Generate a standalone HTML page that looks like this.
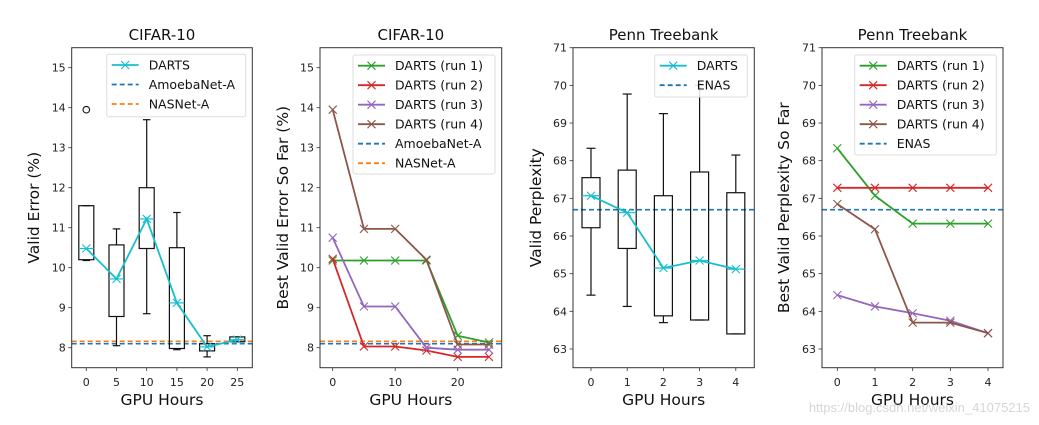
<!DOCTYPE html>
<html><head><meta charset="utf-8"><style>
body{margin:0;background:#fff}
svg{display:block;font-family:"DejaVu Sans","Liberation Sans",sans-serif}
</style></head><body>
<svg id="fig" width="1039" height="425" viewBox="0 0 1039 425" xmlns="http://www.w3.org/2000/svg"></svg>
<script>
// Panel 1: CIFAR-10 box plot
const p1X = [0,5,10,15,20,25];
const p1Q1 = [10.2,8.78,10.48,7.98,7.92,8.15];
const p1Q3 = [11.55,10.57,12.0,10.5,8.1,8.27];
const p1Lo = [10.18,8.05,8.85,7.95,7.77,8.15];
const p1Hi = [11.55,10.97,13.7,11.38,8.3,8.27];
const p1Mean = [10.48,9.72,11.22,9.12,8.02,8.2];
const p1Outliers = [[0,13.95]];
const p1Ticks = [0,5,10,15,20,25];
const cifarYTicks = [8,9,10,11,12,13,14,15];
const amoebaVal = 8.1, nasnetVal = 8.16;
// Panel 2: CIFAR-10 runs
const p2X = [0,5,10,15,20,25];
const p2Run1 = [10.18,10.18,10.18,10.18,8.3,8.13];
const p2Run2 = [10.22,8.03,8.03,7.93,7.77,7.77];
const p2Run3 = [10.75,9.03,9.03,8.0,7.95,7.95];
const p2Run4 = [13.95,10.97,10.97,10.2,8.08,8.08];
const p2Ticks = [0,10,20];
// Panel 3: PTB box plot
const p3X = [0,1,2,3,4];
const p3Q1 = [66.22,65.67,63.88,63.77,63.4];
const p3Q3 = [67.55,67.75,67.07,67.7,67.15];
const p3Lo = [64.43,64.13,63.7,63.77,63.4];
const p3Hi = [68.33,69.77,69.25,70.0,68.15];
const p3Mean = [67.07,66.62,65.15,65.35,65.12];
const ptbYTicks = [63,64,65,66,67,68,69,70,71];
const ptbXTicks = [0,1,2,3,4];
const enasVal = 66.7;
// Panel 4: PTB runs
const p4X = [0,1,2,3,4];
const p4Run1 = [68.33,67.07,66.33,66.33,66.33];
const p4Run2 = [67.28,67.28,67.28,67.28,67.28];
const p4Run3 = [64.43,64.13,63.95,63.75,63.42];
const p4Run4 = [66.85,66.18,63.7,63.7,63.42];

const NS="http://www.w3.org/2000/svg";
const svg=document.getElementById('fig');
function el(tag,attrs,parent,text){const e=document.createElementNS(NS,tag);for(const k in attrs)e.setAttribute(k,attrs[k]);if(text!==undefined)e.textContent=text;(parent||svg).appendChild(e);return e;}
const C={cyan:'#17becf',blue:'#1f77b4',orange:'#ff7f0e',green:'#2ca02c',red:'#d62728',purple:'#9467bd',brown:'#8c564b'};

function panel(o){
  const g=el('g',{});
  
  
  const sx=v=>o.x0+(v-o.xv0)*o.xs, sy=v=>o.y0-(v-o.yv0)*o.ys;
  o.sx=sx;o.sy=sy;o.g=g;
  const t=el('text',{x:(o.L+o.R)/2,y:40,'font-size':15,'text-anchor':'middle',fill:'#111'},g,o.title);
  
  const xl=el('text',{x:(o.L+o.R)/2,y:405,'font-size':15.5,'text-anchor':'middle',fill:'#111'},g,'GPU Hours');
  
  const yl=el('text',{x:0,y:0,'font-size':15.5,'text-anchor':'middle',fill:'#111',transform:`translate(${o.ylx},${(47.7+367.7)/2}) rotate(-90)`},g,o.ylabel);
  
  o.yticks.forEach(v=>{const y=sy(v);el('line',{x1:o.L-3.5,x2:o.L,y1:y,y2:y,stroke:'#333','stroke-width':0.8},g);
    const tl=el('text',{x:o.L-6,y:y+4,'font-size':11,'text-anchor':'end',fill:'#222'},g,String(v));
    });
  o.xticks.forEach(v=>{const x=sx(v);el('line',{x1:x,x2:x,y1:367.7,y2:371,stroke:'#333','stroke-width':0.8},g);
    const tl=el('text',{x:x,y:386,'font-size':11,'text-anchor':'middle',fill:'#222'},g,String(v));
    });
  return o;
}
function frame(o){el('rect',{x:o.L,y:47.7,width:o.R-o.L,height:320,fill:'none',stroke:'#333','stroke-width':1},o.g);}
function hline(o,v,color,name){const l=el('line',{x1:o.L,x2:o.R,y1:o.sy(v),y2:o.sy(v),stroke:color,'stroke-width':1.6,'stroke-dasharray':'5,3'},o.g);
  }
function marker(g,x,y,c){el('path',{d:`M${x-4},${y-4}L${x+4},${y+4}M${x-4},${y+4}L${x+4},${y-4}`,stroke:c,'stroke-width':1.1},g);}
function series(o,xs,ys,color,name){const g=el('g',{},o.g);
  
  el('polyline',{points:xs.map((x,i)=>o.sx(x)+','+o.sy(ys[i])).join(' '),fill:'none',stroke:color,'stroke-width':1.8},g);
  xs.forEach((x,i)=>marker(g,o.sx(x),o.sy(ys[i]),color));}
function boxes(o,xs,q1,q3,lo,hi,med,hw){
  xs.forEach((x,i)=>{const g=el('g',{},o.g);
    
    const cx=o.sx(x);
    el('rect',{x:cx-hw,y:o.sy(q3[i]),width:2*hw,height:o.sy(q1[i])-o.sy(q3[i]),fill:'none',stroke:'#111','stroke-width':1.2},g);
    el('line',{x1:cx,x2:cx,y1:o.sy(q3[i]),y2:o.sy(hi[i]),stroke:'#111','stroke-width':1.2},g);
    el('line',{x1:cx,x2:cx,y1:o.sy(q1[i]),y2:o.sy(lo[i]),stroke:'#111','stroke-width':1.2},g);
    el('line',{x1:cx-hw/2,x2:cx+hw/2,y1:o.sy(hi[i]),y2:o.sy(hi[i]),stroke:'#111','stroke-width':1.2},g);
    el('line',{x1:cx-hw/2,x2:cx+hw/2,y1:o.sy(lo[i]),y2:o.sy(lo[i]),stroke:'#111','stroke-width':1.2},g);
    el('line',{x1:cx-hw,x2:cx+hw,y1:o.sy(med[i]),y2:o.sy(med[i]),stroke:C.cyan,'stroke-width':1.2},g);
  });}
function legend(x1,y1,x2,y2,items){const g=el('g',{});
  
  el('rect',{x:x1,y:y1,width:x2-x1,height:y2-y1,rx:2,fill:'#fff','fill-opacity':0.85,stroke:'#ddd','stroke-width':1},g);
  items.forEach((it,i)=>{const y=y1+10.7+i*19.5;const e=el('g',{},g);
    
    el('line',{x1:x1+5,x2:x1+32,y1:y,y2:y,stroke:it.c,'stroke-width':1.8,'stroke-dasharray':it.d?'5,3':'none'},e);
    if(!it.d)marker(e,x1+18.5,y,it.c);
    el('text',{x:x1+42,y:y+4.5,'font-size':12.5,fill:'#111'},e,it.t);});}

// Panel 1
const P1=panel({name:'panel-cifar-box',title:'CIFAR-10',ylabel:'Valid Error (%)',L:71.7,R:252.3,x0:86.3,xv0:0,xs:6.04,y0:347.7,yv0:8,ys:40,yticks:cifarYTicks,xticks:p1Ticks,ylx:39});
hline(P1,amoebaVal,C.blue,'amoebanet-line');hline(P1,nasnetVal,C.orange,'nasnet-line');
boxes(P1,p1X,p1Q1,p1Q3,p1Lo,p1Hi,p1Mean,7.5);
p1Outliers.forEach(p=>{const c=el('circle',{cx:P1.sx(p[0]),cy:P1.sy(p[1]),r:3.3,fill:'none',stroke:'#111','stroke-width':1.1},P1.g);
  });
series(P1,p1X,p1Mean,C.cyan,'darts-series');
frame(P1);
legend(106.7,54.3,245.7,116.7,[{c:C.cyan,t:'DARTS'},{c:C.blue,t:'AmoebaNet-A',d:1},{c:C.orange,t:'NASNet-A',d:1}]);

// Panel 2
const P2=panel({name:'panel-cifar-runs',title:'CIFAR-10',ylabel:'Best Valid Error So Far (%)',L:320,R:501.7,x0:332.7,xv0:0,xs:6.25,y0:347.7,yv0:8,ys:40,yticks:cifarYTicks,xticks:p2Ticks,ylx:288});
hline(P2,amoebaVal,C.blue,'amoebanet-line');hline(P2,nasnetVal,C.orange,'nasnet-line');
series(P2,p2X,p2Run1,C.green,'darts-run-1');series(P2,p2X,p2Run2,C.red,'darts-run-2');
series(P2,p2X,p2Run3,C.purple,'darts-run-3');series(P2,p2X,p2Run4,C.brown,'darts-run-4');
frame(P2);
legend(353,55,495,174,[{c:C.green,t:'DARTS (run 1)'},{c:C.red,t:'DARTS (run 2)'},{c:C.purple,t:'DARTS (run 3)'},{c:C.brown,t:'DARTS (run 4)'},{c:C.blue,t:'AmoebaNet-A',d:1},{c:C.orange,t:'NASNet-A',d:1}]);

// Panel 3
const P3=panel({name:'panel-ptb-box',title:'Penn Treebank',ylabel:'Valid Perplexity',L:573,R:754.3,x0:591,xv0:0,xs:36.2,y0:349,yv0:63,ys:37.66,yticks:ptbYTicks,xticks:ptbXTicks,ylx:541});
hline(P3,enasVal,C.blue,'enas-line');
boxes(P3,p3X,p3Q1,p3Q3,p3Lo,p3Hi,p3Mean,9);
series(P3,p3X,p3Mean,C.cyan,'darts-series');
frame(P3);
legend(654.7,55,747.3,97,[{c:C.cyan,t:'DARTS'},{c:C.blue,t:'ENAS',d:1}]);

// Panel 4
const P4=panel({name:'panel-ptb-runs',title:'Penn Treebank',ylabel:'Best Valid Perplexity So Far',L:822,R:1003,x0:837.3,xv0:0,xs:37.68,y0:349,yv0:63,ys:37.66,yticks:ptbYTicks,xticks:ptbXTicks,ylx:789});
hline(P4,enasVal,C.blue,'enas-line');
series(P4,p4X,p4Run1,C.green,'darts-run-1');series(P4,p4X,p4Run2,C.red,'darts-run-2');
series(P4,p4X,p4Run3,C.purple,'darts-run-3');series(P4,p4X,p4Run4,C.brown,'darts-run-4');
frame(P4);
legend(854.7,55,996.3,155,[{c:C.green,t:'DARTS (run 1)'},{c:C.red,t:'DARTS (run 2)'},{c:C.purple,t:'DARTS (run 3)'},{c:C.brown,t:'DARTS (run 4)'},{c:C.blue,t:'ENAS',d:1}]);

const wm=el('text',{x:1030,y:412,'font-size':13,'text-anchor':'end',fill:'#ccc','fill-opacity':0.8,'font-family':'Liberation Sans, sans-serif'},svg,'https://blog.csdn.net/weixin_41075215');


</script>
</body></html>
